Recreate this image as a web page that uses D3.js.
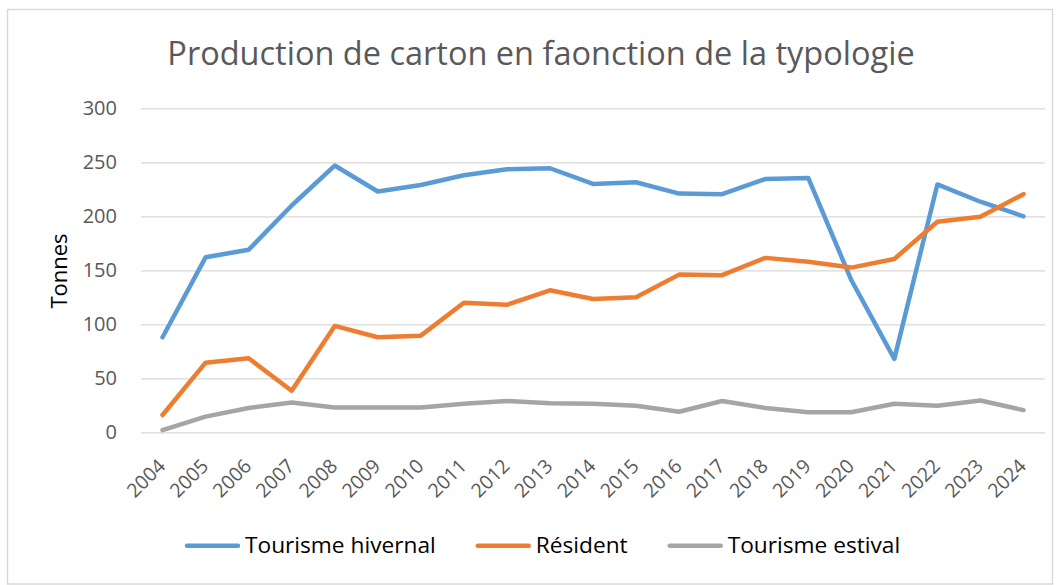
<!DOCTYPE html>
<html>
<head>
<meta charset="utf-8">
<script src="https://cdn.jsdelivr.net/npm/d3@7"></script>
<style>
    body { margin: 0; background: #fff; }
    svg text { font-family: "Open Sans", "Noto Sans", sans-serif; }
</style>
</head>
<body>
<div id="chart"></div>
<script>
// data
let years = ["2004", "2005", "2006", "2007", "2008", "2009", "2010", "2011", "2012", "2013", "2014",
    "2015", "2016", "2017", "2018", "2019", "2020", "2021", "2022", "2023", "2024"];
let hivernal = [88, 162, 169, 210, 247, 223, 229, 238, 243.5, 244.5, 230, 231.5, 221, 220.5, 234.5, 235.5, 141, 68, 229.5, 213.5, 200];
let resident = [16, 64.5, 68.5, 38.5, 98.5, 88, 89.5, 120, 118, 131.5, 123.5, 125, 146, 145.5, 161.5, 158, 152.5, 160.5, 195, 199.5, 220.5];
let estival = [2, 14.5, 22.5, 27.5, 23, 23, 23, 26.5, 29, 27, 26.5, 24.5, 19, 29, 22.5, 18.5, 18.5, 26.5, 24.5, 29.5, 20.5];
let yTicks = [0, 50, 100, 150, 200, 250, 300];
let seriesNames = ["Tourisme hivernal", "Résident", "Tourisme estival"];
let seriesColors = ["#5B9BD5", "#ED7D31", "#A5A5A5"];

let W = 1062, H = 585;
let margin = {top: 108.3, right: 17, bottom: 152.7, left: 141},
    width = W - margin.left - margin.right,
    height = H - margin.top - margin.bottom;

let svg = d3.select("#chart").append("svg")
    .attr("width", W)
    .attr("height", H);

// chart border
svg.append("rect")
    .attr("x", 7.5).attr("y", 9.5)
    .attr("width", 1045).attr("height", 574.5)
    .attr("fill", "#fff")
    .attr("stroke", "#d9d9d9")
    .attr("stroke-width", 1.5);

// title
svg.append("text")
    .attr("x", 541)
    .attr("y", 65)
    .attr("text-anchor", "middle")
    .style("font-size", "32.5px")
    .style("fill", "#595959")
    .text("Production de carton en faonction de la typologie");

let g = svg.append("g")
    .attr("transform", "translate(" + margin.left + "," + margin.top + ")");

let x = d3.scaleBand().domain(years).range([0, width]);
let y = d3.scaleLinear().domain([0, 300]).range([height, 0]);

// y axis with gridlines
let yAx = g.append("g")
    .call(d3.axisLeft(y).tickValues(yTicks).tickSize(-width).tickPadding(24));
yAx.select(".domain").remove();
yAx.selectAll(".tick line").attr("stroke", "#d9d9d9").attr("stroke-width", 1.3);
yAx.selectAll(".tick text")
    .style("font-size", "20px")
    .style("font-family", "'Open Sans', sans-serif")
    .attr("fill", "#595959");

// x axis labels, rotated
let xAx = g.append("g")
    .attr("transform", "translate(0," + height + ")")
    .call(d3.axisBottom(x).tickSize(0).tickPadding(0));
xAx.select(".domain").remove();
xAx.selectAll(".tick text")
    .attr("y", 0).attr("dy", 0)
    .attr("text-anchor", "end")
    .attr("transform", "translate(4,35) rotate(-45)")
    .style("font-size", "19.5px")
    .style("font-family", "'Open Sans', sans-serif")
    .attr("fill", "#595959");

// y axis name
svg.append("text")
    .attr("transform", "translate(67,271) rotate(-90)")
    .attr("text-anchor", "middle")
    .style("font-size", "22px")
    .style("fill", "#000")
    .text("Tonnes");

// lines
let allSeries = [hivernal, resident, estival];
let line = d3.line()
    .x(function (d, i) { return x(years[i]) + x.bandwidth() / 2; })
    .y(function (d) { return y(d); });

allSeries.forEach(function (s, k) {
    g.append("path")
        .datum(s)
        .attr("d", line)
        .attr("fill", "none")
        .attr("stroke", seriesColors[k])
        .attr("stroke-width", 4.5)
        .attr("stroke-linejoin", "round")
        .attr("stroke-linecap", "round");
});

// legend
let legendX = 185, legendY = 545.7;
seriesNames.forEach(function (name, k) {
    let item = svg.append("g").attr("transform", "translate(" + legendX + "," + legendY + ")");
    item.append("line")
        .attr("x1", 2).attr("x2", 53)
        .attr("y1", 0).attr("y2", 0)
        .attr("stroke", seriesColors[k])
        .attr("stroke-width", 4.5)
        .attr("stroke-linecap", "round");
    let t = item.append("text")
        .attr("x", 60)
        .attr("y", 7.5)
        .style("font-size", "22.7px")
        .style("fill", "#000")
        .text(name);
    legendX += 60 + t.node().getComputedTextLength() + 40;
});
</script>
</body>
</html>
